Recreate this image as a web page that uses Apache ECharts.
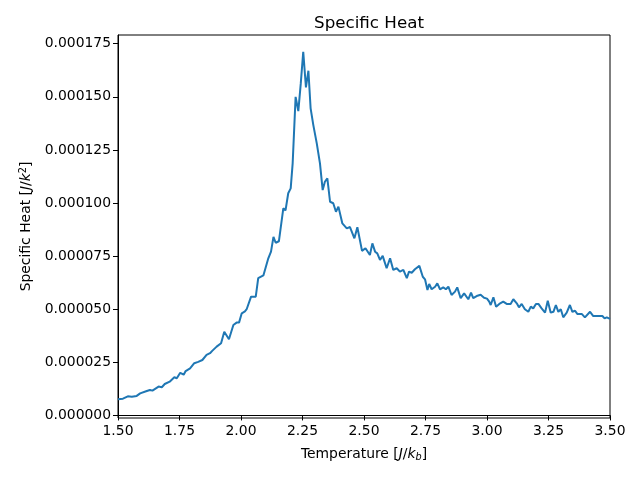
<!DOCTYPE html>
<html>
<head>
<meta charset="utf-8">
<script src="https://cdn.jsdelivr.net/npm/echarts@6/dist/echarts.min.js"></script>
<style>
body{margin:0;background:#fff;}
#chart{width:640px;height:480px;}
</style>
</head>
<body>
<div id="chart"></div>
<script>
// temperature samples
var temps = [1.500,1.520,1.540,1.556,1.576,1.590,1.617,1.630,1.640,1.665,1.678,1.690,1.710,1.729,1.739,1.753,1.767,1.775,1.793,1.810,
1.826,1.843,1.860,1.874,1.883,1.901,1.919,1.932,1.951,1.969,1.982,1.992,2.003,2.016,2.023,2.041,2.060,2.070,2.091,2.111,
2.122,2.132,2.141,2.154,2.172,2.181,2.192,2.202,2.210,2.222,2.233,2.243,2.253,2.264,2.274,2.283,2.294,2.308,2.321,2.332,
2.341,2.351,2.362,2.375,2.386,2.396,2.412,2.430,2.443,2.461,2.473,2.492,2.506,2.524,2.534,2.545,2.554,2.565,2.576,2.592,
2.606,2.619,2.633,2.646,2.660,2.674,2.683,2.694,2.707,2.714,2.725,2.739,2.748,2.758,2.765,2.775,2.789,2.798,2.809,2.822,
2.833,2.843,2.856,2.870,2.879,2.893,2.907,2.915,2.924,2.935,2.944,2.958,2.974,2.988,3.000,3.009,3.015,3.026,3.037,3.050,
3.066,3.080,3.096,3.107,3.121,3.130,3.141,3.154,3.168,3.178,3.188,3.199,3.209,3.222,3.236,3.247,3.259,3.270,3.280,3.290,
3.300,3.310,3.324,3.337,3.347,3.358,3.367,3.385,3.398,3.419,3.432,3.453,3.469,3.478,3.487,3.500];
// specific heat, in units of 1e-6
var heatE6 = [7.6,7.9,9.0,8.8,9.2,10.4,11.5,12.0,11.7,13.6,13.3,14.8,15.9,18.0,17.5,20.1,19.2,20.9,22.2,24.6,
25.2,26.1,28.5,29.3,30.4,32.4,34.0,39.4,35.9,42.6,43.7,43.7,48.1,49.0,50.0,55.9,55.9,64.6,65.9,74.0,
77.1,84.1,81.3,82.0,97.5,96.5,104.6,106.9,118.7,150.0,143.3,156.3,171.2,154.4,162.3,144.6,136.7,128.1,118.7,106.1,
110.0,111.6,100.6,99.9,95.9,98.3,90.4,88.1,88.7,83.4,88.6,77.5,78.7,75.5,81.0,77.1,76.3,73.2,75.1,69.3,
74.0,68.5,69.3,67.7,68.5,64.6,67.7,67.2,68.8,68.1,70.4,65.3,64.1,59.1,61.9,59.4,60.6,62.2,59.4,60.3,
59.4,60.6,56.7,58.3,60.3,55.2,57.5,58.3,54.7,57.8,55.2,56.2,56.8,55.4,55.0,53.6,52.0,55.6,51.2,52.5,
53.6,52.5,52.5,54.7,52.8,50.9,52.5,50.0,48.8,51.2,50.4,52.5,52.5,50.4,48.4,54.0,48.4,48.8,52.0,48.8,
50.0,46.2,48.4,52.0,48.8,49.3,47.8,47.8,46.2,48.8,46.8,46.8,46.8,45.7,46.2,45.5];
var xTicks = [1.50,1.75,2.00,2.25,2.50,2.75,3.00,3.25,3.50];
var yTicks = [0,0.000025,0.00005,0.000075,0.0001,0.000125,0.00015,0.000175];

var seriesData = [];
for(var i = 0; i < temps.length; i++){
    seriesData.push([temps[i], heatE6[i] * 1e-6]);
}

var font = 'DejaVu Sans';
var chart = echarts.init(document.getElementById('chart'), null, {renderer:'canvas'});
var option = {
    backgroundColor:'#fff',
    animation:false,
    title:{
        text:'Specific Heat',
        left:364,
        top:10,
        textAlign:'center',
        textStyle:{fontFamily:font, fontSize:16.7, fontWeight:'normal', color:'#000'}
    },
    grid:{
        left:118, right:30, top:35, bottom:62,
        show:true, borderColor:'#000', borderWidth:1, backgroundColor:'#fff'
    },
    xAxis:{
        type:'value',
        min:1.5, max:3.5,
        name:'Temperature [{it|J}/{it|k}{sub|b}]',
        nameLocation:'middle',
        nameGap:28,
        nameTextStyle:{
            fontFamily:font, fontSize:13.9, color:'#000',
            rich:{
                it:{fontFamily:font, fontSize:13.9, fontStyle:'italic', color:'#000'},
                sub:{fontFamily:font, fontSize:9.7, fontStyle:'italic', color:'#000', verticalAlign:'bottom', padding:[6,0,0,0]}
            }
        },
        axisLine:{lineStyle:{color:'#000', width:1}},
        axisTick:{show:true, length:5, lineStyle:{color:'#000'}, customValues:xTicks},
        axisLabel:{
            customValues:xTicks,
            fontFamily:font, fontSize:13.9, color:'#000', margin:6,
            formatter:function(v){ return v.toFixed(2); }
        },
        splitLine:{show:false}
    },
    yAxis:{
        type:'value',
        min:-0.0000012, max:0.0001791,
        name:'Specific Heat [{it|J}/{it|k}{sup|2}]',
        nameLocation:'middle',
        nameRotate:90,
        nameGap:84,
        nameTextStyle:{
            fontFamily:font, fontSize:13.9, color:'#000',
            rich:{
                it:{fontFamily:font, fontSize:13.9, fontStyle:'italic', color:'#000'},
                sup:{fontFamily:font, fontSize:9.7, color:'#000', verticalAlign:'top', padding:[0,0,6,0]}
            }
        },
        axisLine:{show:true, lineStyle:{color:'#000', width:1}},
        axisTick:{show:true, length:5, lineStyle:{color:'#000'}, customValues:yTicks},
        axisLabel:{
            customValues:yTicks,
            fontFamily:font, fontSize:13.9, color:'#000', margin:7,
            formatter:function(v){ return v.toFixed(6); }
        },
        splitLine:{show:false}
    },
    series:[{
        type:'line',
        data:seriesData,
        showSymbol:false,
        lineStyle:{color:'#1f77b4', width:2},
        itemStyle:{color:'#1f77b4'}
    }]
};
chart.setOption(option);
</script>
</body>
</html>
